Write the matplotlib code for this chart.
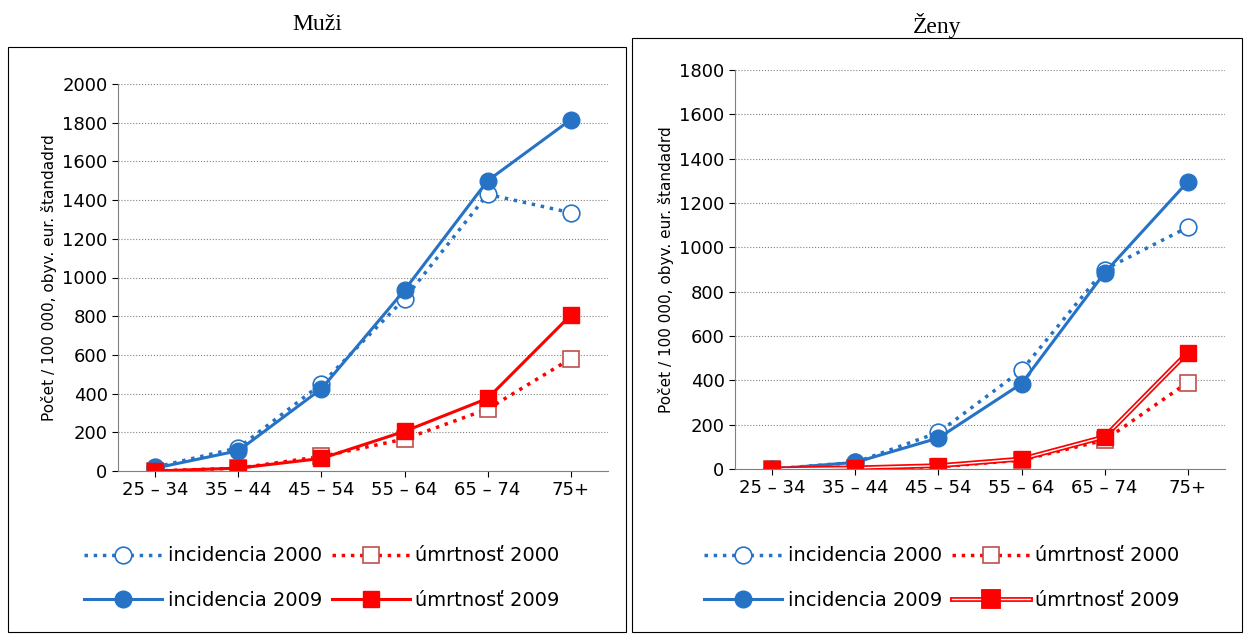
import matplotlib
matplotlib.use("Agg")
import matplotlib.pyplot as plt
from matplotlib.patches import Rectangle
from matplotlib.lines import Line2D
import matplotlib.patheffects as pe

cats = ["25 – 34", "35 – 44", "45 – 54", "55 – 64", "65 – 74", "75+"]
m_inc2000 = [20, 120, 450, 890, 1430, 1335]
m_inc2009 = [15, 105, 425, 935, 1500, 1815]
m_mor2000 = [0, 15, 75, 165, 320, 580]
m_mor2009 = [0, 15, 65, 205, 375, 805]
z_inc2000 = [0, 30, 165, 445, 900, 1090]
z_inc2009 = [0, 30, 140, 385, 885, 1295]
z_mor2000 = [0, 5, 10, 40, 130, 390]
z_mor2009 = [0, 5, 15, 45, 145, 525]

W, H = 1249, 636
fig = plt.figure(figsize=(W/100, H/100), dpi=100)
blue = "#2673C6"; red = "#FF0000"

def fx(x): return x / W
def fy(y): return 1 - y / H

def panel(box, area, title, ty, inc0, inc9, mor0, mor9, ymax, double):
    x0, y0, x1, y1 = box
    fig.patches.append(Rectangle((fx(x0), fy(y1)), fx(x1-x0), (y1-y0)/H, transform=fig.transFigure,
                                 fill=False, ec="black", lw=0.8))
    fig.text(fx((x0+x1)/2), fy(ty), title, ha="center", va="center", fontsize=17, family="Liberation Serif")
    ax0, ay0, ax1, ay1 = area
    ax = fig.add_axes([fx(ax0), fy(ay1), fx(ax1-ax0), (ay1-ay0)/H])
    xs = range(len(cats))
    l1, = ax.plot(xs, inc0, ":", color=blue, lw=2.5, marker="o", ms=12, mfc="white", mec=blue, mew=1.2)
    l2, = ax.plot(xs, mor0, ":", color=red, lw=2.5, marker="s", ms=11, mfc="white", mec="#C0504D", mew=1.2)
    l3, = ax.plot(xs, inc9, "-", color=blue, lw=2.2, marker="o", ms=12, mfc=blue, mec=blue)
    if double:
        ax.plot(xs, mor9, "-", color="white", lw=1.0,
                path_effects=[pe.Stroke(linewidth=3.5, foreground=red), pe.Normal()])
        ax.plot(xs, mor9, "s", ms=11, mfc=red, mec=red, ls="none")
        l4 = Line2D([], [], color="white", lw=1.0, marker="s", ms=11, mfc=red, mec=red,
                    path_effects=[pe.Stroke(linewidth=3.5, foreground=red), pe.Normal()])
        l4m = Line2D([], [], color="white", lw=1.0, marker="s", ms=11, mfc=red, mec=red)
    else:
        l4, = ax.plot(xs, mor9, "-", color=red, lw=2.2, marker="s", ms=11, mfc=red, mec=red)
    ax.set_ylim(0, ymax)
    ax.set_yticks(range(0, ymax+1, 200))
    ax.set_xlim(-0.45, 5.45)
    ax.set_xticks(list(xs)); ax.set_xticklabels(cats)
    ax.tick_params(labelsize=13, length=4)
    ax.grid(axis="y", ls=":", color="#808080", lw=0.8)
    for s in ["top", "right"]: ax.spines[s].set_visible(False)
    ax.spines["left"].set_color("#808080"); ax.spines["bottom"].set_color("#808080")
    ax.set_ylabel("Počet / 100 000, obyv. eur. štandadrd", fontsize=11)
    ax.set_axisbelow(True)
    leg = ax.legend([l1, l3, l2, l4], ["incidencia 2000", "incidencia 2009", "úmrtnosť 2000", "úmrtnosť 2009"],
              ncol=2, frameon=False, fontsize=14, handlelength=4.0, columnspacing=0.5,
              labelspacing=1.3, handletextpad=0.3,
              loc="center", bbox_to_anchor=(fx((x0+x1)/2 + 5), fy(578)), bbox_transform=fig.transFigure)
    if double:
        for h in leg.legend_handles:
            pass

panel((8, 47, 626, 632), (118, 84, 608, 471), "Muži", 25, m_inc2000, m_inc2009, m_mor2000, m_mor2009, 2000, False)
panel((632, 38, 1242, 632), (735, 70, 1225, 469), "Ženy", 25, z_inc2000, z_inc2009, z_mor2000, z_mor2009, 1800, True)
fig.savefig("out.png", dpi=100)
